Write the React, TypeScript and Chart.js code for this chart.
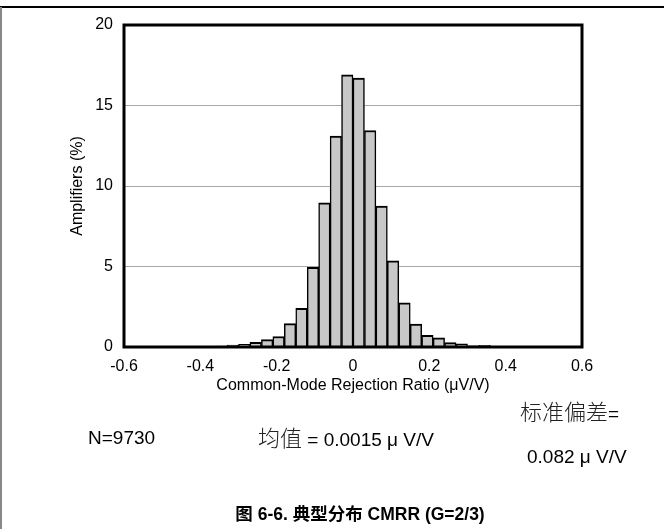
import React, { useEffect, useRef } from "react";
import { Chart, registerables } from "chart.js";

Chart.register(...registerables);

// Histogram bins (bin width 0.03 µV/V), centers listed explicitly
const binCenters = [
  -0.375, -0.345, -0.315, -0.285, -0.255, -0.225, -0.195, -0.165, -0.135,
  -0.105, -0.075, -0.045, -0.015, 0.015, 0.045, 0.075, 0.105, 0.135, 0.165,
  0.195, 0.225, 0.255, 0.285, 0.315, 0.345, 0.375, 0.405,
];
const amplifiersPct = [
  0.04, 0.05, 0.12, 0.17, 0.29, 0.46, 0.65, 1.45, 2.4,
  4.95, 8.95, 13.1, 16.9, 16.7, 13.45, 8.75, 5.35, 2.75, 1.42,
  0.73, 0.57, 0.27, 0.19, 0.07, 0.1, 0.04, 0.04,
];

const xTickValues = [-0.6, -0.4, -0.2, 0, 0.2, 0.4, 0.6];
const xTickLabels = ["-0.6", "-0.4", "-0.2", "0", "0.2", "0.4", "0.6"];
const yTickValues = [0, 5, 10, 15, 20];
const yTickLabels = ["0", "5", "10", "15", "20"];

const xTitle = "Common-Mode Rejection Ratio (\u03BCV/V)";
const yTitle = "Amplifiers (%)";
const noteN = "N=9730";
const meanLabel = "均值";
const meanValue = " = 0.0015 \u03BC V/V";
const stdLabel = "标准偏差";
const stdValue = "0.082 \u03BC V/V";
const caption = "图 6-6. 典型分布 CMRR (G=2/3)";

const LATIN = '"Liberation Sans", Arial, "Noto Sans CJK SC", sans-serif';
const CJK = '"Noto Sans CJK SC", sans-serif';

export default function App() {
  const ref = useRef<HTMLCanvasElement>(null);

  useEffect(() => {
    const frame = {
      id: "frame",
      afterDatasetsDraw(chart: any) {
        const { ctx, chartArea } = chart;
        const { left, top, right, bottom } = chartArea;
        ctx.save();
        ctx.strokeStyle = "#000";
        ctx.lineWidth = 3;
        ctx.strokeRect(left, top, right - left, bottom - top);
        ctx.restore();
      },
    };

    const chart = new Chart(ref.current as HTMLCanvasElement, {
      type: "bar",
      data: {
        datasets: [
          {
            data: binCenters.map((x, i) => ({ x, y: amplifiersPct[i] })),
            backgroundColor: "#c8c8c8",
            borderColor: "#000",
            borderWidth: { top: 2, left: 1.5, right: 1.5, bottom: 0 },
            barPercentage: 1,
            categoryPercentage: 1,
          } as any,
        ],
      },
      options: {
        responsive: false,
        animation: false,
        devicePixelRatio: 1,
        layout: { padding: { left: 60, top: 25, right: 82, bottom: 134 } },
        plugins: {
          legend: { display: false },
          tooltip: { enabled: false },
        },
        font: { family: LATIN },
        scales: {
          x: {
            type: "linear",
            min: -0.6,
            max: 0.6,
            offset: false,
            grid: { display: false, offset: false },
            border: { display: false },
            afterBuildTicks: (s: any) => {
              s.ticks = xTickValues.map((v) => ({ value: v }));
            },
            afterFit: (s: any) => {
              s.height = 48;
            },
            ticks: {
              autoSkip: false,
              maxRotation: 0,
              padding: 2,
              color: "#000",
              font: { size: 16, family: LATIN },
              callback: (_v: any, i: number) => xTickLabels[i],
            },
            title: {
              display: true,
              text: xTitle,
              color: "#000",
              font: { size: 16, family: LATIN },
              padding: { top: 0, bottom: 0 },
            },
          },
          y: {
            type: "linear",
            min: 0,
            max: 20,
            grid: { color: "#a8a8a8", lineWidth: 1, drawTicks: false },
            border: { display: false },
            afterBuildTicks: (s: any) => {
              s.ticks = yTickValues.map((v) => ({ value: v }));
            },
            afterFit: (s: any) => {
              s.width = 64;
            },
            ticks: {
              padding: 11,
              color: "#000",
              font: { size: 16, family: LATIN },
              callback: (_v: any, i: number) => yTickLabels[i],
            },
            title: {
              display: true,
              text: yTitle,
              color: "#000",
              font: { size: 16, family: LATIN },
              padding: { top: 8, bottom: 0 },
            },
          },
        },
      } as any,
      plugins: [frame],
    });
    return () => chart.destroy();
  }, []);

  const txt = (extra: React.CSSProperties): React.CSSProperties => ({
    position: "absolute",
    whiteSpace: "nowrap",
    lineHeight: 1,
    color: "#000",
    fontFamily: LATIN,
    fontSize: 19,
    transform: "translateY(-50%)",
    ...extra,
  });
  const cjk: React.CSSProperties = { fontFamily: CJK, fontSize: 22, fontWeight: 300, color: "#222" };

  return (
    <div
      style={{
        position: "fixed",
        left: 0,
        top: 0,
        width: 664,
        height: 529,
        background: "#fff",
        overflow: "hidden",
      }}
    >
      <div style={{ position: "absolute", left: 0, top: 6, width: 664, height: 1.5, background: "#000" }} />
      <div style={{ position: "absolute", left: 0, top: 7, width: 1.5, height: 522, background: "#888" }} />
      <canvas
        ref={ref}
        width={664}
        height={529}
        style={{ position: "absolute", left: 0, top: 0, width: 664, height: 529 }}
      />
      <div style={txt({ left: 88, top: 437 })}>{noteN}</div>
      <div style={txt({ left: 258, top: 437 })}>
        <span style={cjk}>{meanLabel}</span>
        {meanValue}
      </div>
      <div style={txt({ left: 520, top: 411 })}>
        <span style={cjk}>{stdLabel}</span>=
      </div>
      <div style={txt({ left: 527, top: 456 })}>{stdValue}</div>
      <div
        style={txt({
          left: 360,
          top: 515,
          fontSize: 17.5,
          fontWeight: "bold",
          transform: "translate(-50%, -50%)",
        })}
      >
        {caption}
      </div>
    </div>
  );
}
